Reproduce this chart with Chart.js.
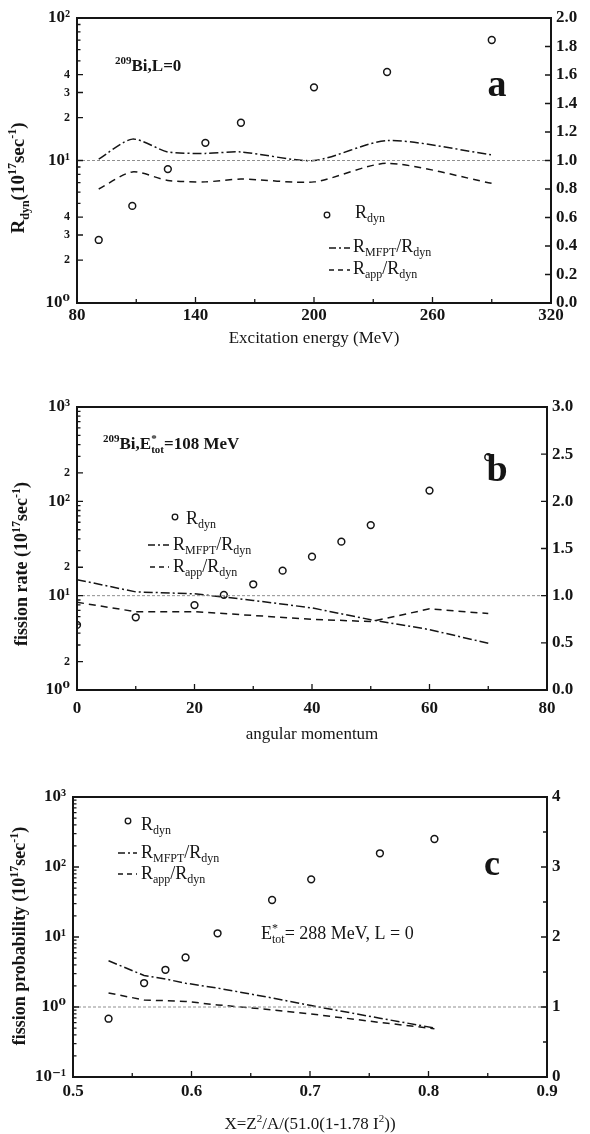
<!DOCTYPE html>
<html lang="en">
<head>
<meta charset="UTF-8">
<title>Fission rates</title>
<script src="https://cdn.jsdelivr.net/npm/chart.js"></script>
<style>
  html, body { margin: 0; padding: 0; background: #fff; }
  canvas { display: block; }
</style>
</head>
<body>
<canvas id="chartA" width="590" height="350"></canvas>
<canvas id="chartB" width="590" height="400"></canvas>
<canvas id="chartC" width="590" height="384"></canvas>
<script>
// ---- panel a : rate vs excitation energy ----
const energyA = [91, 108, 126, 145, 163, 200, 237, 290];
const rdynA   = [2.77, 4.8, 8.7, 13.3, 18.4, 32.6, 41.8, 70.1];
const mfptA   = [1.01, 1.15, 1.06, 1.05, 1.06, 1.00, 1.14, 1.04];
const appA    = [0.80, 0.92, 0.86, 0.85, 0.87, 0.85, 0.98, 0.84];
const refXA   = [80, 320];

// ---- panel b : rate vs angular momentum ----
const angMomB     = [0, 10, 20, 25, 30, 35, 40, 45, 50, 60, 70];
const rdynB       = [4.9, 5.9, 7.95, 10.2, 13.2, 18.4, 25.9, 37.4, 56, 130, 294];
const angMomLineB = [0, 10, 20, 30, 40, 50, 60, 70];
const mfptB       = [1.17, 1.04, 1.02, 0.95, 0.87, 0.745, 0.64, 0.495];
const appB        = [0.93, 0.83, 0.83, 0.79, 0.75, 0.725, 0.86, 0.81];
const refXB       = [0, 80];

// ---- panel c : probability vs fissility ----
const fissC  = [0.530, 0.560, 0.578, 0.595, 0.622, 0.668, 0.701, 0.759, 0.805];
const rdynC  = [0.68, 2.2, 3.4, 5.1, 11.3, 33.8, 66.7, 157, 251];
const mfptC  = [1.66, 1.45, 1.40, 1.34, 1.27, 1.13, 1.02, 0.84, 0.70];
const appC   = [1.20, 1.10, 1.09, 1.08, 1.03, 0.96, 0.90, 0.78, 0.69];
const refXC  = [0.5, 0.9];
const refY   = [1, 1];

// ---- ticks ----
const xTicksA  = [80, 110, 140, 170, 200, 230, 260, 290, 320];
const xLabelsA = ['80', '', '140', '', '200', '', '260', '', '320'];
const xTicksB  = [0, 10, 20, 30, 40, 50, 60, 70, 80];
const xLabelsB = ['0', '', '20', '', '40', '', '60', '', '80'];
const xTicksC  = [0.5, 0.55, 0.6, 0.65, 0.7, 0.75, 0.8, 0.85, 0.9];
const xLabelsC = ['0.5', '', '0.6', '', '0.7', '', '0.8', '', '0.9'];

const yLabelValsA = [1, 2, 3, 4, 10, 20, 30, 40, 100];
const yLabelTxtA  = ['10⁰', '2', '3', '4', '10¹', '2', '3', '4', '10²'];
const yLabelValsB = [1, 2, 10, 20, 100, 200, 1000];
const yLabelTxtB  = ['10⁰', '2', '10¹', '2', '10²', '2', '10³'];
const yLabelValsC = [0.1, 1, 10, 100, 1000];
const yLabelTxtC  = ['10⁻¹', '10⁰', '10¹', '10²', '10³'];

const rTicksA  = [0, 0.2, 0.4, 0.6, 0.8, 1.0, 1.2, 1.4, 1.6, 1.8, 2.0];
const rLabelsA = ['0.0', '0.2', '0.4', '0.6', '0.8', '1.0', '1.2', '1.4', '1.6', '1.8', '2.0'];
const rTicksB  = [0, 0.5, 1.0, 1.5, 2.0, 2.5, 3.0];
const rLabelsB = ['0.0', '0.5', '1.0', '1.5', '2.0', '2.5', '3.0'];
const rTicksC  = [0, 0.5, 1, 1.5, 2, 2.5, 3, 3.5, 4];
const rLabelsC = ['0', '', '1', '', '2', '', '3', '', '4'];

const INK = '#151515';
const SERIF = '"Liberation Serif", "DejaVu Serif", serif';

function pts(xs, ys) {
    return xs.map((x, i) => ({ x: x, y: ys[i] }));
}

// all decades between two powers of ten: 1,2,..9,10,20,...
function logTicks(lo, hi) {
    const out = [];
    for (let e = lo; e < hi; e++) {
        for (let m = 1; m < 10; m++) out.push(+(m * Math.pow(10, e)).toPrecision(3));
    }
    out.push(Math.pow(10, hi));
    return out;
}

function findLabel(v, vals, txts) {
    for (let i = 0; i < vals.length; i++) {
        if (Math.abs(vals[i] - v) <= Math.abs(v) * 1e-6 + 1e-9) return txts[i];
    }
    return '';
}

// draw text made of pieces: n = normal, sub, sup, ss = sup and sub stacked
function richText(ctx, t) {
    const size = t.size;
    const weight = t.bold ? 'bold ' : '';
    const small = Math.round(size * 0.64);
    const fontN = weight + size + 'px ' + SERIF;
    const fontS = weight + small + 'px ' + SERIF;
    let w = 0;
    const widths = t.parts.map(p => {
        let pw;
        if (p[1] === 'n') { ctx.font = fontN; pw = ctx.measureText(p[0]).width; }
        else if (p[1] === 'ss') { ctx.font = fontS; pw = Math.max(ctx.measureText(p[0][0]).width, ctx.measureText(p[0][1]).width); }
        else { ctx.font = fontS; pw = ctx.measureText(p[0]).width; }
        w += pw;
        return pw;
    });
    ctx.save();
    ctx.translate(t.x, t.y);
    if (t.rotate) ctx.rotate(-Math.PI / 2);
    ctx.fillStyle = INK;
    ctx.textBaseline = 'alphabetic';
    ctx.textAlign = 'left';
    let cx = t.align === 'center' ? -w / 2 : 0;
    const base = size * 0.34;
    t.parts.forEach((p, i) => {
        if (p[1] === 'n') {
            ctx.font = fontN; ctx.fillText(p[0], cx, base);
        } else if (p[1] === 'sub') {
            ctx.font = fontS; ctx.fillText(p[0], cx, base + size * 0.22);
        } else if (p[1] === 'sup') {
            ctx.font = fontS; ctx.fillText(p[0], cx, base - size * 0.42);
        } else {
            ctx.font = fontS;
            ctx.fillText(p[0][0], cx, base - size * 0.42);
            ctx.fillText(p[0][1], cx, base + size * 0.22);
        }
        cx += widths[i];
    });
    ctx.restore();
}

function decorPlugin(spec) {
    return {
        id: 'decor',
        afterDraw(chart) {
            const ctx = chart.ctx;
            const ca = chart.chartArea;
            ctx.save();
            ctx.strokeStyle = INK;
            ctx.lineWidth = 2;
            ctx.strokeRect(ca.left, ca.top, ca.right - ca.left, ca.bottom - ca.top);

            // inward tick marks
            ctx.lineWidth = 1.3;
            const sx = chart.scales.x, sy = chart.scales.y, sr = chart.scales.y2;
            ctx.beginPath();
            sx.ticks.forEach(t => {
                const p = sx.getPixelForValue(t.value);
                const len = t.label ? 6 : 4;
                ctx.moveTo(p, ca.bottom); ctx.lineTo(p, ca.bottom - len);
            });
            sy.ticks.forEach(t => {
                const p = sy.getPixelForValue(t.value);
                const len = t.label ? 6 : 3.5;
                ctx.moveTo(ca.left, p); ctx.lineTo(ca.left + len, p);
            });
            sr.ticks.forEach(t => {
                const p = sr.getPixelForValue(t.value);
                const len = t.label ? 6 : 4;
                ctx.moveTo(ca.right, p); ctx.lineTo(ca.right - len, p);
            });
            ctx.stroke();

            // legend
            spec.legend.forEach(it => {
                ctx.strokeStyle = INK;
                if (it.marker) {
                    ctx.lineWidth = 1.3;
                    ctx.setLineDash([]);
                    ctx.beginPath();
                    ctx.arc(it.mx, it.my, 2.8, 0, Math.PI * 2);
                    ctx.stroke();
                } else {
                    ctx.lineWidth = 1.5;
                    ctx.setLineDash(it.dash);
                    ctx.beginPath();
                    ctx.moveTo(it.x0, it.my); ctx.lineTo(it.x1, it.my);
                    ctx.stroke();
                    ctx.setLineDash([]);
                }
                richText(ctx, it.text);
            });

            spec.texts.forEach(t => richText(ctx, t));
            ctx.restore();
        }
    };
}

function tickFont(vals) {
    return (c) => {
        const major = !c.tick || Math.abs(Math.log10(c.tick.value) % 1) < 1e-6;
        return { family: SERIF, weight: 'bold', size: major ? 17 : 12 };
    };
}

function makeChart(id, p) {
    const dashDot = [9, 3, 2, 3];
    const dashed = [7, 5];
    new Chart(document.getElementById(id), {
        type: 'scatter',
        data: {
            datasets: [
                { data: pts(p.refX, refY), yAxisID: 'y2', showLine: true, borderColor: '#8f8f8f',
                  borderWidth: 1, borderDash: [3, 2], pointRadius: 0 },
                { data: pts(p.lineX, p.mfpt), yAxisID: 'y2', showLine: true, borderColor: INK,
                  borderWidth: 1.5, borderDash: dashDot, pointRadius: 0, tension: p.tension },
                { data: pts(p.lineX, p.app), yAxisID: 'y2', showLine: true, borderColor: INK,
                  borderWidth: 1.5, borderDash: dashed, pointRadius: 0, tension: p.tension },
                { data: pts(p.ptX, p.rdyn), yAxisID: 'y', showLine: false, pointRadius: 3.4,
                  pointBorderWidth: 1.5, pointBorderColor: INK, pointBackgroundColor: '#fff' }
            ]
        },
        options: {
            responsive: false,
            animation: false,
            layout: { padding: { top: p.padTop, left: 0, right: 0, bottom: 0 } },
            plugins: { legend: { display: false }, tooltip: { enabled: false } },
            scales: {
                x: {
                    type: 'linear', min: p.xTicks[0], max: p.xTicks[p.xTicks.length - 1],
                    grid: { display: false, drawTicks: false }, border: { display: false },
                    afterBuildTicks: s => { s.ticks = p.xTicks.map(v => ({ value: v })); },
                    afterFit: s => { s.height = p.xH; },
                    ticks: {
                        autoSkip: false, maxRotation: 0, minRotation: 0, padding: p.xPad, color: INK,
                        font: { family: SERIF, weight: 'bold', size: 17 },
                        callback: v => findLabel(v, p.xTicks, p.xLabels)
                    }
                },
                y: {
                    type: 'logarithmic', position: 'left', min: p.yMin, max: p.yMax,
                    grid: { display: false, drawTicks: false }, border: { display: false },
                    afterBuildTicks: s => { s.ticks = p.yTicks.map(v => ({ value: v })); },
                    afterFit: s => { s.width = p.leftW; },
                    ticks: {
                        autoSkip: false, padding: 7, color: INK, font: tickFont(),
                        callback: v => findLabel(v, p.yLabelVals, p.yLabelTxt)
                    }
                },
                y2: {
                    type: 'linear', position: 'right', min: p.rTicks[0], max: p.rTicks[p.rTicks.length - 1],
                    grid: { display: false, drawTicks: false }, border: { display: false },
                    afterBuildTicks: s => { s.ticks = p.rTicks.map(v => ({ value: v })); },
                    afterFit: s => { s.width = p.rightW; },
                    ticks: {
                        autoSkip: false, padding: 5, color: INK,
                        font: { family: SERIF, weight: 'bold', size: 17 },
                        callback: v => findLabel(v, p.rTicks, p.rLabels)
                    }
                }
            }
        },
        plugins: [decorPlugin(p)]
    });
}

const dashDotL = [7, 3, 2, 3];
const dashedL = [5, 4];

makeChart('chartA', {
    ptX: energyA, rdyn: rdynA, lineX: energyA, mfpt: mfptA, app: appA, refX: refXA, tension: 0.25,
    xTicks: xTicksA, xLabels: xLabelsA, yTicks: logTicks(0, 2), yLabelVals: yLabelValsA, yLabelTxt: yLabelTxtA,
    yMin: 1, yMax: 100, rTicks: rTicksA, rLabels: rLabelsA,
    padTop: 18, xH: 47, xPad: 2, leftW: 77, rightW: 39,
    texts: [
        { parts: [['R', 'n'], ['dyn', 'sub'], ['(10', 'n'], ['17', 'sup'], ['sec', 'n'], ['-1', 'sup'], [')', 'n']],
          x: 18, y: 178, size: 19, bold: true, rotate: true, align: 'center' },
        { parts: [['Excitation energy (MeV)', 'n']], x: 314, y: 337, size: 17, align: 'center' },
        { parts: [['209', 'sup'], ['Bi,L=0', 'n']], x: 115, y: 65, size: 17, bold: true },
        { parts: [['a', 'n']], x: 497, y: 83, size: 38, bold: true, align: 'center' }
    ],
    legend: [
        { marker: true, mx: 327, my: 215, text: { parts: [['R', 'n'], ['dyn', 'sub']], x: 355, y: 212, size: 18 } },
        { dash: dashDotL, x0: 329, x1: 350, my: 248,
          text: { parts: [['R', 'n'], ['MFPT', 'sub'], ['/R', 'n'], ['dyn', 'sub']], x: 353, y: 246, size: 18 } },
        { dash: dashedL, x0: 329, x1: 350, my: 270,
          text: { parts: [['R', 'n'], ['app', 'sub'], ['/R', 'n'], ['dyn', 'sub']], x: 353, y: 268, size: 18 } }
    ]
});

makeChart('chartB', {
    ptX: angMomB, rdyn: rdynB, lineX: angMomLineB, mfpt: mfptB, app: appB, refX: refXB, tension: 0,
    xTicks: xTicksB, xLabels: xLabelsB, yTicks: logTicks(0, 3), yLabelVals: yLabelValsB, yLabelTxt: yLabelTxtB,
    yMin: 1, yMax: 1000, rTicks: rTicksB, rLabels: rLabelsB,
    padTop: 57, xH: 60, xPad: 8, leftW: 77, rightW: 43,
    texts: [
        { parts: [['fission rate (10', 'n'], ['17', 'sup'], ['sec', 'n'], ['-1', 'sup'], [')', 'n']],
          x: 21, y: 214, size: 18, bold: true, rotate: true, align: 'center' },
        { parts: [['angular momentum', 'n']], x: 312, y: 383, size: 17, align: 'center' },
        { parts: [['209', 'sup'], ['Bi,E', 'n'], [['*', 'tot'], 'ss'], ['=108 MeV', 'n']], x: 103, y: 93, size: 17, bold: true },
        { parts: [['b', 'n']], x: 497, y: 118, size: 38, bold: true, align: 'center' }
    ],
    legend: [
        { marker: true, mx: 175, my: 167, text: { parts: [['R', 'n'], ['dyn', 'sub']], x: 186, y: 168, size: 18 } },
        { dash: dashDotL, x0: 148, x1: 169, my: 195,
          text: { parts: [['R', 'n'], ['MFPT', 'sub'], ['/R', 'n'], ['dyn', 'sub']], x: 173, y: 194, size: 18 } },
        { dash: dashedL, x0: 150, x1: 169, my: 217,
          text: { parts: [['R', 'n'], ['app', 'sub'], ['/R', 'n'], ['dyn', 'sub']], x: 173, y: 216, size: 18 } }
    ]
});

makeChart('chartC', {
    ptX: fissC, rdyn: rdynC, lineX: fissC, mfpt: mfptC, app: appC, refX: refXC, tension: 0,
    xTicks: xTicksC, xLabels: xLabelsC, yTicks: logTicks(-1, 3), yLabelVals: yLabelValsC, yLabelTxt: yLabelTxtC,
    yMin: 0.1, yMax: 1000, rTicks: rTicksC, rLabels: rLabelsC,
    padTop: 47, xH: 57, xPad: 4, leftW: 73, rightW: 43,
    texts: [
        { parts: [['fission probability (10', 'n'], ['17', 'sup'], ['sec', 'n'], ['-1', 'sup'], [')', 'n']],
          x: 19, y: 186, size: 18, bold: true, rotate: true, align: 'center' },
        { parts: [['X=Z', 'n'], ['2', 'sup'], ['/A/(51.0(1-1.78 I', 'n'], ['2', 'sup'], ['))', 'n']],
          x: 310, y: 373, size: 17, align: 'center' },
        { parts: [['E', 'n'], [['*', 'tot'], 'ss'], ['= 288 MeV, L = 0', 'n']], x: 261, y: 183, size: 18 },
        { parts: [['c', 'n']], x: 492, y: 113, size: 36, bold: true, align: 'center' }
    ],
    legend: [
        { marker: true, mx: 128, my: 71, text: { parts: [['R', 'n'], ['dyn', 'sub']], x: 141, y: 74, size: 18 } },
        { dash: dashDotL, x0: 118, x1: 137, my: 103,
          text: { parts: [['R', 'n'], ['MFPT', 'sub'], ['/R', 'n'], ['dyn', 'sub']], x: 141, y: 102, size: 18 } },
        { dash: dashedL, x0: 118, x1: 137, my: 124,
          text: { parts: [['R', 'n'], ['app', 'sub'], ['/R', 'n'], ['dyn', 'sub']], x: 141, y: 123, size: 18 } }
    ]
});
</script>
</body>
</html>
